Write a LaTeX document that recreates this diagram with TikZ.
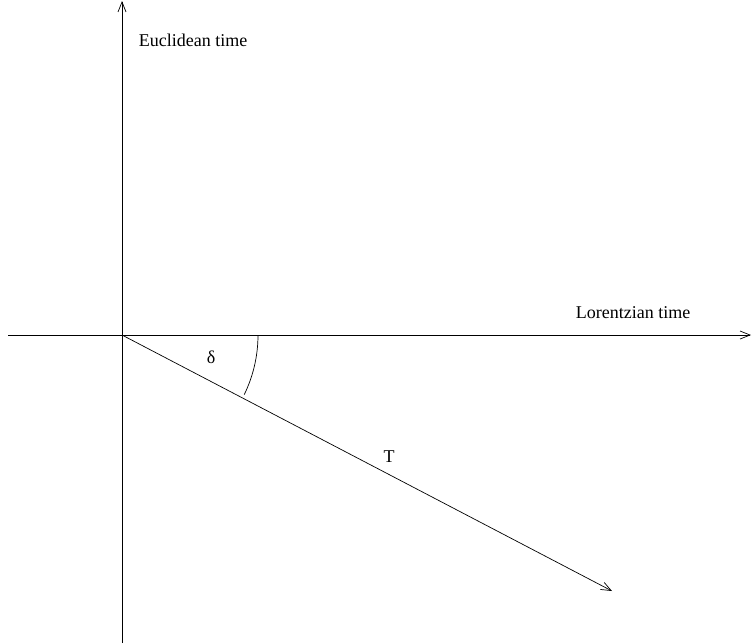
\documentclass[tikz,border=0pt]{standalone}
\usepackage{fontspec}
\setmainfont{Liberation Serif}
\usepackage{tikz}
\usetikzlibrary{arrows.meta,positioning,calc}

\begin{document}
\begin{tikzpicture}[x=1pt, y=-1pt, every node/.style={font=\fontsize{18}{20}\selectfont}, axis/.style={line width=0.7pt, -{Straight Barb[length=10pt,width=8pt]}}, lbl/.style={inner sep=0pt}]
\useasboundingbox (0,0) rectangle (752,643);
\coordinate (origin) at (122,335);
\coordinate (ebottom) at (122,643);
\coordinate (etop) at (122,1);
\coordinate (lleft) at (8,335);
\coordinate (lright) at (751,335);
\coordinate (tend) at (612,591);
\draw[axis] (ebottom)--(etop);
\draw[axis] (lleft)--(lright);
\draw[axis] (origin)--(tend);
\draw[line width=0.7pt] ($(origin)+(136,0)$) arc[start angle=0, end angle=26, radius=136];
\node[lbl] (euclid) at (193,40) {Euclidean time};
\node[lbl] (lorentz) at (633,313) {Lorentzian time};
\node[lbl] (delta) at (211,357) {δ};
\node[lbl] (period) at (389,457) {T};
\end{tikzpicture}
\end{document}
